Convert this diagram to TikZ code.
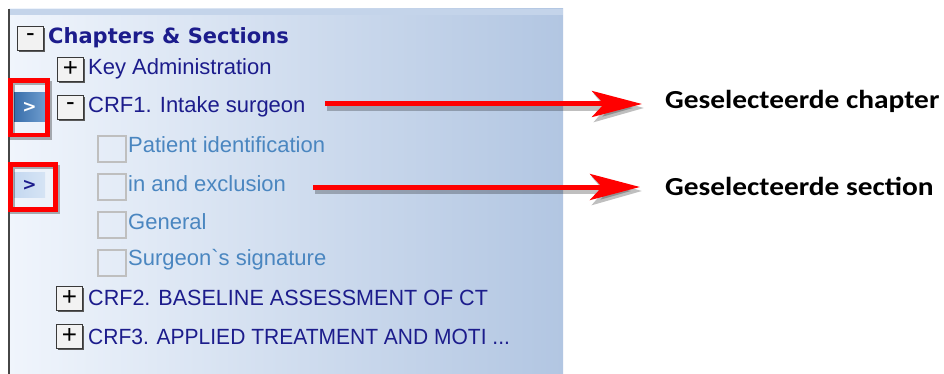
\documentclass[tikz,border=0pt]{standalone}
\usepackage{fontspec}
\setmainfont{Liberation Sans}
\newfontfamily\nomapfont{Liberation Sans}[Ligatures=TeXOff]
\newfontfamily\verdfont{DejaVu Sans}
\newfontfamily\calfont{Carlito}
\usetikzlibrary{arrows.meta,shadows}
\definecolor{navy}{RGB}{28,28,140}
\definecolor{secblue}{RGB}{74,134,192}
\definecolor{panelL}{RGB}{240,245,252}
\definecolor{panelR}{RGB}{178,198,226}
\definecolor{paneltop}{RGB}{196,212,234}
\definecolor{selL}{RGB}{56,110,170}
\definecolor{selR}{RGB}{110,156,206}
\definecolor{seclight}{RGB}{196,216,240}
\tikzset{
  btn/.style={draw=gray!45!black, fill=gray!10, line width=0.8pt,
    minimum width=26pt, minimum height=24pt, inner sep=0pt,
    font=\fontsize{26}{26}\selectfont,
    general shadow={shadow xshift=1.8pt, shadow yshift=-1.8pt, fill=black!65}},
  tree/.style={anchor=west, inner sep=0pt, font=\fontsize{22}{24}\selectfont, text=navy},
  sect/.style={tree, text=secblue},
  chk/.style={draw=gray!50, line width=1.4pt, minimum width=28pt, minimum height=26pt, inner sep=0pt},
  redbox/.style={draw=red, line width=4.5pt},
  boxshadow/.style={draw=black, opacity=0.3, line width=4.5pt},
  redarrow/.style={draw=red, line width=5pt, -{Stealth[length=50pt,width=26pt,inset=12pt]}},
  arrowshadow/.style={draw=black, opacity=0.25, line width=6pt, -{Stealth[length=50pt,width=28pt,inset=12pt]}},
  lbl/.style={anchor=west, inner sep=0pt, font=\calfont\bfseries\fontsize{26}{28}\selectfont, text=black}
}
\begin{document}
\begin{tikzpicture}[x=1pt,y=-1pt]
\useasboundingbox (0,0) rectangle (944,374);
\fill[white] (0,0) rectangle (944,374);
% panel
\shade[left color=panelL, right color=panelR] (9,9) rectangle (563,374);
\fill[paneltop] (9,9) rectangle (563,15);
\draw[gray!55!black, line width=2pt] (9,9) -- (9,374);

% root
\node[btn] (b0) at (30.5,38) {-};
\node[anchor=west, inner sep=0pt, text=navy, font=\verdfont\bfseries\fontsize{21}{24}\selectfont] (root) at (48,38) {Chapters \& Sections};

% Key Administration
\node[btn] (b1) at (70.5,69) {+};
\node[tree] (t1) at (88,69) {Key Administration};

% CRF1
\node[btn] (b2) at (70.5,107) {-};
\node[tree] (t2) at (88,107) {CRF1. Intake surgeon};

% selected chapter indicator
\node[inner sep=0pt, minimum width=31pt, minimum height=29pt, left color=selL, right color=selR,
      text=white, font=\verdfont\bfseries\fontsize{17}{17}\selectfont] (sel1) at (29.5,107.5) {>};

% sections
\node[chk] (c1) at (112,149) {};
\node[sect] (s1) at (128,145) {Patient identification};
\node[chk] (c2) at (112,187) {};
\node[sect] (s2) at (128,184) {in and exclusion};
\node[chk] (c3) at (112,225) {};
\node[sect] (s3) at (128,222) {General};
\node[chk] (c4) at (112,263) {};
\node[sect] (s4) at (128,260) {Surgeon{\nomapfont\symbol{96}}s signature};

% selected section indicator
\node[inner sep=0pt, minimum width=31pt, minimum height=25pt, left color=seclight, right color=seclight!70!white,
      text=navy, font=\verdfont\bfseries\fontsize{17}{17}\selectfont] (sel2) at (29.5,185) {>};

% CRF2 / CRF3
\node[btn] (b3) at (69.5,298) {+};
\node[tree] (t3) at (88,298) {\scalebox{0.98}[1]{CRF2. BASELINE ASSESSMENT OF CT}};
\node[btn] (b4) at (69.5,336) {+};
\node[tree] (t4) at (88,337) {\scalebox{0.955}[1]{CRF3. APPLIED TREATMENT AND MOTI ...}};

% red highlight boxes
\node[boxshadow, minimum width=37pt, minimum height=54.5pt, inner sep=0pt] at (31,110.5) {};
\node[redbox, minimum width=37pt, minimum height=54.5pt, inner sep=0pt] (r1) at (29,108) {};
\node[boxshadow, minimum width=45pt, minimum height=45pt, inner sep=0pt] at (35,189.5) {};
\node[redbox, minimum width=45pt, minimum height=45pt, inner sep=0pt] (r2) at (33,187) {};

% labels
\node[lbl] (l1) at (665,101) {\scalebox{1.13}[1]{Geselecteerde chapter}};
\node[lbl] (l2) at (665,186) {\scalebox{1.13}[1]{Geselecteerde section}};

% arrows
\coordinate (a1s) at (325,104);
\coordinate (a1e) at (642,104);
\coordinate (a2s) at (313,187);
\coordinate (a2e) at (640,187);
\draw[arrowshadow] ([shift={(2,4)}]a1s) -- ([shift={(2,4)}]a1e);
\draw[arrowshadow] ([shift={(2,4)}]a2s) -- ([shift={(2,4)}]a2e);
\draw[redarrow] (a1s) -- (a1e);
\draw[redarrow] (a2s) -- (a2e);
\end{tikzpicture}
\end{document}
